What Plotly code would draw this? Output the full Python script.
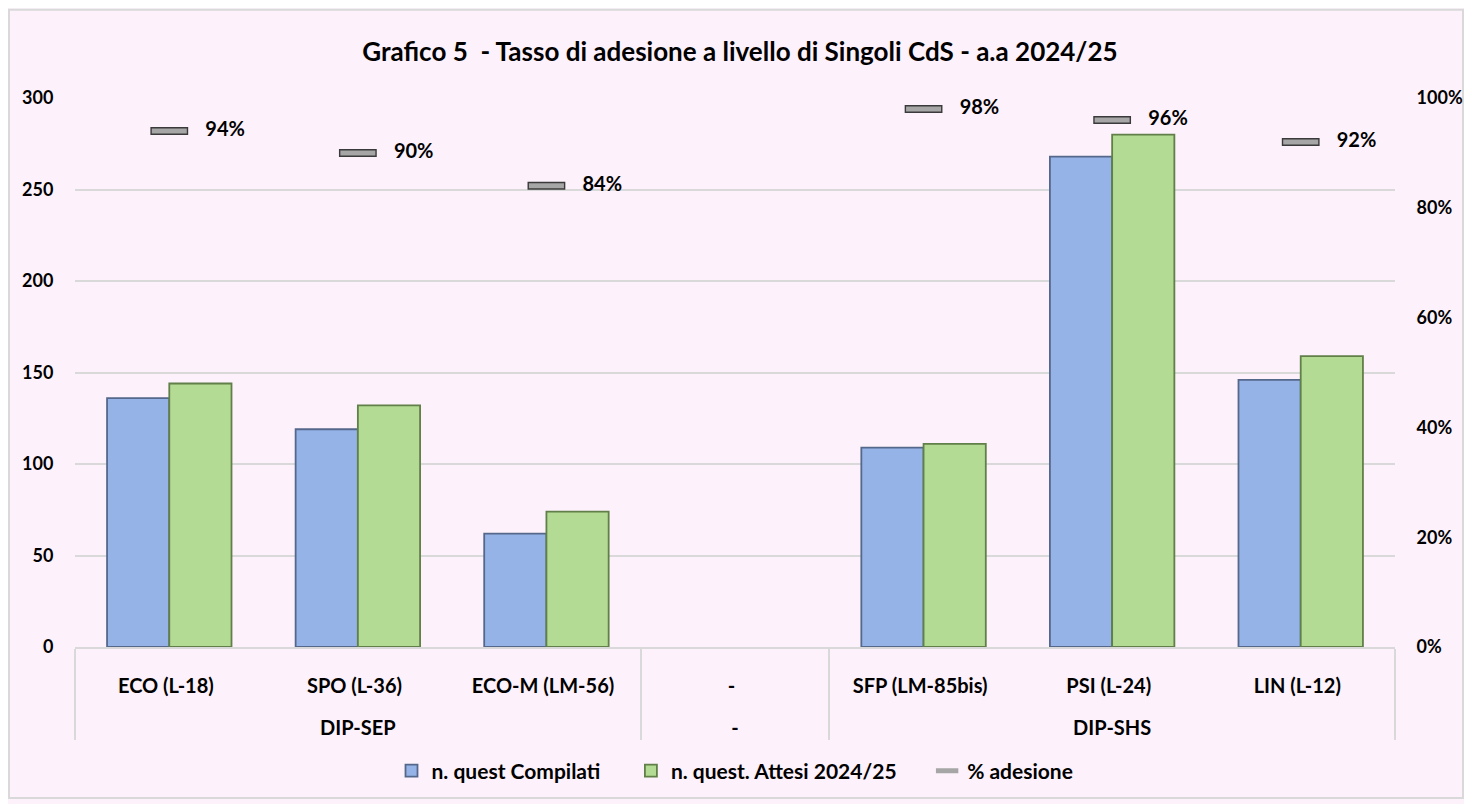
import plotly.graph_objects as go

# dati grafico 5
gruppi = ["DIP-SEP", "DIP-SEP", "DIP-SEP", "-", "DIP-SHS", "DIP-SHS", "DIP-SHS"]
corsi = ["ECO (L-18)", "SPO (L-36)", "ECO-M (LM-56)", "-", "SFP (LM-85bis)", "PSI (L-24)", "LIN (L-12)"]
compilati = [136, 119, 62, None, 109, 268, 146]
attesi = [144, 132, 74, None, 111, 280, 159]
adesione = [0.94, 0.90, 0.84, None, 0.98, 0.96, 0.92]

# etichette su due livelli, con un po' piu' di spazio tra le righe
spazio = "<span style='font-size:28px'> </span>"
x = [["<br>" + g for g in gruppi], [c + spazio for c in corsi]]
FONT = "Lato"
bg = "#FDF2FB"
NB = "\u00a0" * 5

fig = go.Figure()
fig.add_trace(go.Bar(x=x, y=compilati, name="n. quest Compilati" + NB,
                     marker=dict(color="#95B3E7", line=dict(color="#55688C", width=1.8))))
fig.add_trace(go.Bar(x=x, y=attesi, name="n. quest. Attesi 2024/25" + NB,
                     marker=dict(color="#B3DB93", line=dict(color="#617F49", width=1.8))))

# trattino % adesione (bordo scuro + riempimento grigio)
fig.add_trace(go.Scatter(x=x, y=adesione, yaxis="y2", mode="markers", showlegend=False,
                         hoverinfo="skip",
                         marker=dict(symbol="line-ew", size=27, line=dict(color="#3A3A3A", width=8))))
fig.add_trace(go.Scatter(x=x, y=adesione, yaxis="y2", mode="markers+text", name="% adesione",
                         text=["    " + f"{v:.0%}" if v is not None else "" for v in adesione],
                         textposition="middle right",
                         textfont=dict(family=FONT, size=20, color="black", weight="bold"),
                         marker=dict(symbol="line-ew", size=25, line=dict(color="#A6A6A6", width=5))))

W, H = 1456, 796
fig.update_layout(
    width=W, height=H,
    margin=dict(l=67, r=69, t=90, b=153),
    paper_bgcolor=bg, plot_bgcolor=bg,
    font=dict(family=FONT, size=18, color="black", weight="bold"),
    title=dict(text="Grafico 5  - Tasso di adesione a livello di Singoli CdS - a.a 2024/25",
               x=732 / W, xref="container", y=1 - 44 / H, yanchor="middle",
               font=dict(family=FONT, size=26, weight="bold")),
    barmode="group", bargap=0.34, bargroupgap=0,
    legend=dict(orientation="h", x=0.5, xanchor="center", y=-0.226, yanchor="middle",
                font=dict(size=21, weight="bold"), bgcolor="rgba(0,0,0,0)"),
    xaxis=dict(type="multicategory", showline=True, linecolor="#D9D9D9", linewidth=1.5,
               showdividers=True, dividercolor="#D9D9D9", dividerwidth=1.5, automargin=False,
               ticklabelstandoff=20, tickfont=dict(size=20, weight="bold")),
    yaxis=dict(range=[0, 300], dtick=50, showgrid=True, gridcolor="#D9D9D9", gridwidth=1.5,
               zeroline=False, ticks="outside", ticklen=17, tickcolor="rgba(0,0,0,0)",
               automargin=False, tickfont=dict(size=18, weight="bold")),
    yaxis2=dict(range=[0, 1], dtick=0.2, tickformat=".0%", overlaying="y", side="right",
                showgrid=False, zeroline=False, ticks="outside", ticklen=17,
                tickcolor="rgba(0,0,0,0)", automargin=False, tickfont=dict(size=18, weight="bold")),
)

# bordo esterno del grafico
fig.add_shape(type="rect", xref="paper", yref="paper",
              x0=-66 / 1320, x1=1 + 68 / 1320, y0=-152 / 553, y1=1 + 89 / 553,
              line=dict(color="#D9D9D9", width=2), fillcolor="rgba(0,0,0,0)", layer="below")

fig.write_html("out.html")
